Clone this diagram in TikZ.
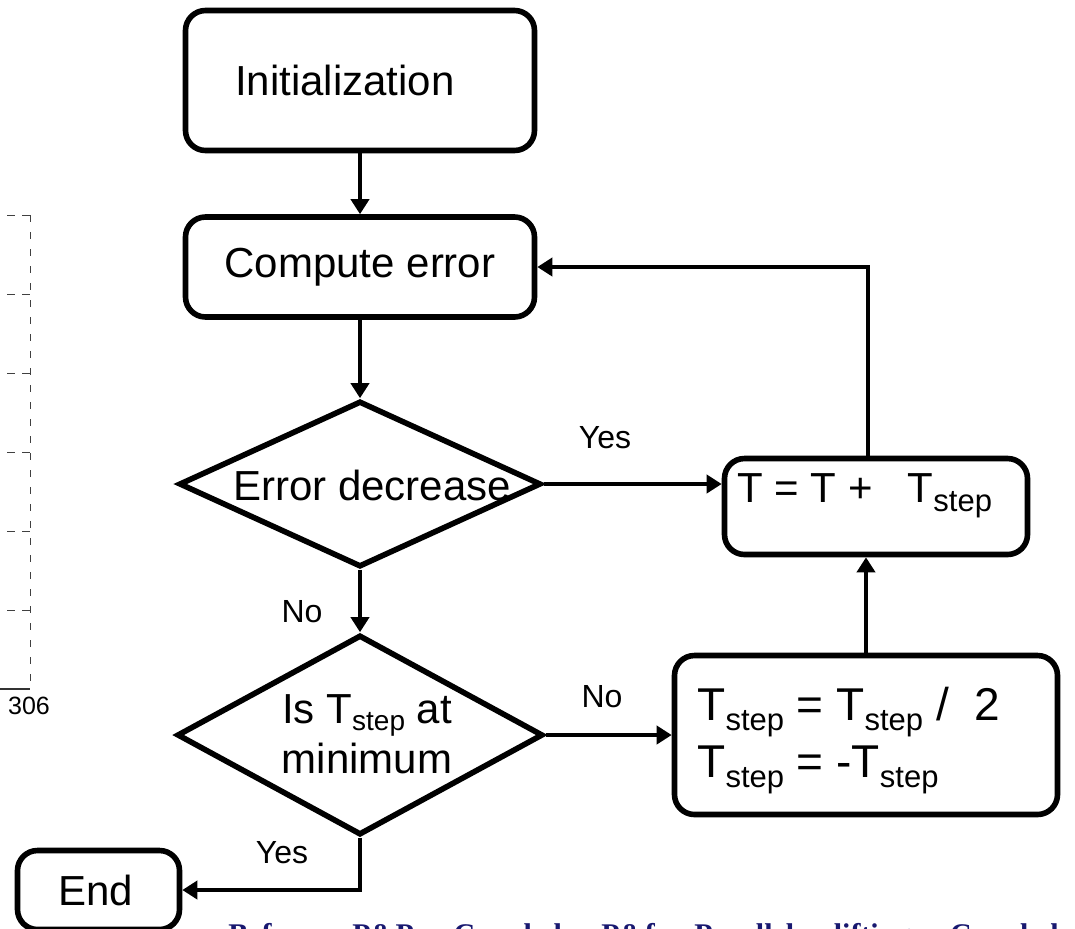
\documentclass[tikz,border=0pt]{standalone}
\usepackage{fontspec}
\setmainfont{Liberation Sans}
\newfontfamily\serifb{Liberation Serif}
\usetikzlibrary{shapes.geometric,arrows.meta}
\definecolor{refblue}{RGB}{24,24,112}
\newcommand{\subt}[2]{\raisebox{-#2}{\fontsize{#1}{#1}\selectfont step}}
\begin{document}
\begin{tikzpicture}[x=0.5pt,y=-0.5pt,
  box/.style={draw, line width=2.8pt, rounded corners=10pt, inner sep=0pt, font=\fontsize{21pt}{25pt}\selectfont},
  dia/.style={draw, diamond, line width=2.8pt, inner sep=0pt},
  txt/.style={inner sep=0pt, font=\fontsize{21pt}{25pt}\selectfont},
  bigtxt/.style={inner sep=0pt, font=\fontsize{23pt}{27pt}\selectfont},
  lbl/.style={inner sep=0pt, font=\fontsize{16pt}{19pt}\selectfont},
  arr/.style={line width=2.4pt, -{Triangle[length=7.5pt,width=9pt]}},
  vaxis/.style={line width=0.5pt, dash pattern=on 3.5pt off 5pt, black!75},
  haxis/.style={line width=0.5pt, dash pattern=on 4pt off 3.5pt, black!75}]
\clip (0,0) rectangle (1075,928);

% boxes
\node[box, minimum width=174.5pt, minimum height=70pt] (init) at (360,80.5) {Initialization\hspace*{15pt}};
\node[box, minimum width=174.5pt, minimum height=50pt] (comp) at (360,267) {Compute error};
\node[dia, minimum width=181pt, minimum height=83pt] (d1) at (360,484) {};
\node[txt, anchor=base] (d1t) at (372,500) {Error decrease};
\node[dia, minimum width=183pt, minimum height=100pt] (d2) at (360,735) {};
\node[txt, anchor=base] (d2a) at (367,723) {Is T\subt{14pt}{3.5pt} at};
\node[txt, anchor=base] (d2b) at (367,773) {minimum};
\node[box, minimum width=151.5pt, minimum height=48pt] (plus) at (876,506.5) {};
\node[txt, anchor=base west] (plust) at (737,502) {T = T +\ \ \ T\subt{15.5pt}{4.5pt}};
\node[box, minimum width=191.5pt, minimum height=79.5pt] (half) at (866,735) {};
\node[bigtxt, anchor=base west] (h1) at (697,720) {T\subt{15.5pt}{5pt} = T\subt{15.5pt}{5pt} /\ \ 2};
\node[bigtxt, anchor=base west] (h2) at (697,777) {T\subt{15.5pt}{5pt} = -T\subt{15.5pt}{5pt}};
\node[box, minimum width=81pt, minimum height=39.5pt] (end) at (98.5,890) {\hspace*{-3pt}End};

% labels
\node[lbl] (yes1) at (605,438) {Yes};
\node[lbl] (no1) at (302,612) {No};
\node[lbl] (no2) at (602,697) {No};
\node[lbl] (yes2) at (282,853) {Yes};

% connectors
\draw[arr] (init) -- (comp);
\draw[arr] (comp) -- (d1);
\draw[arr] (d1) -- (d2);
\draw[arr] (d1.east) -- (d1.east -| plus.west);
\draw[arr] (d2.east) -- (d2.east -| half.west);
\draw[arr] (half.north) -- (half.north |- plus.south);
\draw[arr] ([xshift=-4pt]plus.north) |- (comp.east);
\draw[arr] (d2.south) |- (end.east);

% axis fragment
\draw[vaxis] (30,215) -- (30,689);
\foreach \yy in {215,294,373,452,531,610} {\draw[haxis] (7,\yy) -- (30,\yy);}
\draw[line width=0.7pt, black!80] (0,689) -- (30,689);
\node[inner sep=0pt, font=\fontsize{12.5pt}{15pt}\selectfont] (lab306) at (29,706) {306};

% clipped reference line
\node[anchor=base west, inner sep=0pt, text=refblue, font=\serifb\bfseries\fontsize{15pt}{18pt}\selectfont] (ref) at (228,944) {\makebox[415pt][s]{Before P\&P Coupled P\&f Parallel lifting Coupled}};
\end{tikzpicture}
\end{document}
